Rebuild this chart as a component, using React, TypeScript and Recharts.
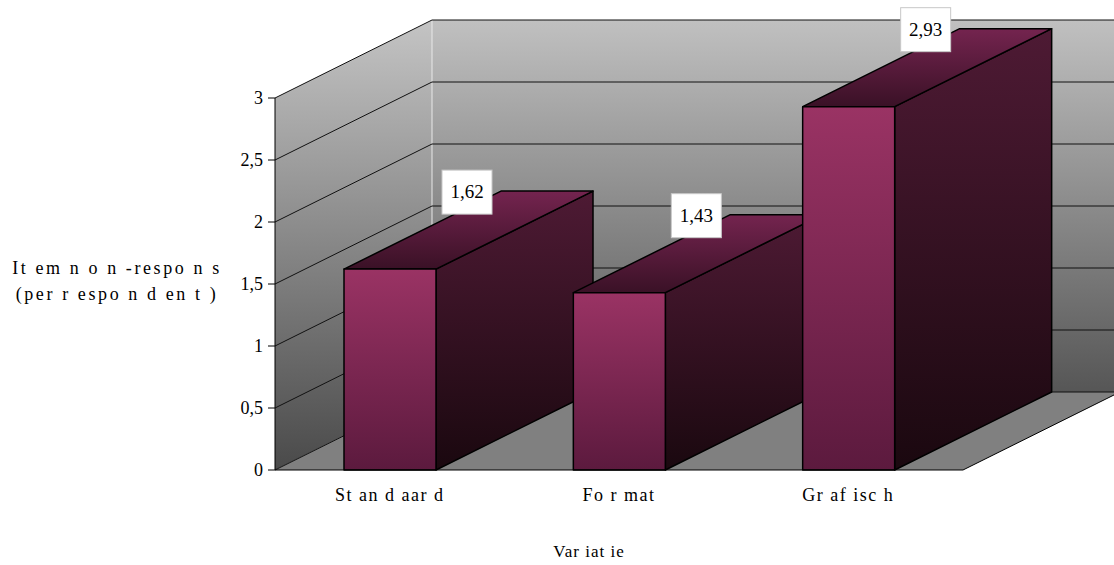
import { BarChart, Bar, XAxis, YAxis, ReferenceArea, LabelList, Label } from 'recharts';

const categories = ['St an d aar d', 'Fo r mat', 'Gr af isc h'];
const nonResponse = [1.62, 1.43, 2.93];
const yTicks = [0, 0.5, 1, 1.5, 2, 2.5, 3];

const data = categories.map((name, i) => ({ name, val: nonResponse[i] }));

// perspective offset of the back plane
const DX = 157;
const DY = 78;
const FONT = '"Liberation Serif", "Times New Roman", serif';

const comma = (v: number) => String(v).replace('.', ',');

// left wall, back wall, floor and the grid lines running over them
function Walls(props: any) {
  const { x, y, width, height } = props;
  const bottom = y + height;
  const yMax = yTicks[yTicks.length - 1];
  return (
    <g>
      <polygon
        points={`${x},${bottom} ${x},${y} ${x + DX},${y - DY} ${x + DX},${bottom - DY}`}
        fill="url(#wallSide)"
      />
      <polygon
        points={`${x + DX},${y - DY} ${x + width + DX},${y - DY} ${x + width + DX},${bottom - DY} ${x + DX},${bottom - DY}`}
        fill="url(#wallBack)"
      />
      <polygon
        points={`${x},${bottom} ${x + DX},${bottom - DY} ${x + width + DX},${bottom - DY} ${x + width},${bottom}`}
        fill="#808080"
      />
      <line x1={x + DX} y1={y - DY} x2={x + DX} y2={bottom - DY} stroke="#e8e8e8" />
      {yTicks.map((t) => {
        const py = bottom - (t / yMax) * height;
        return (
          <g key={t} stroke="#111" strokeWidth={1}>
            <line x1={x} y1={py} x2={x + DX} y2={py - DY} />
            <line x1={x + DX} y1={py - DY} x2={x + width + DX} y2={py - DY} />
          </g>
        );
      })}
      <line x1={x + width} y1={bottom} x2={x + width + DX} y2={bottom - DY} stroke="#000" />
    </g>
  );
}

function Box3D(props: any) {
  const { x, y, width, height } = props;
  const b = y + height;
  return (
    <g stroke="#000" strokeWidth={1.5} strokeLinejoin="round">
      <polygon
        points={`${x + width},${y} ${x + width + DX},${y - DY} ${x + width + DX},${b - DY} ${x + width},${b}`}
        fill="url(#barSide)"
      />
      <polygon
        points={`${x},${y} ${x + DX},${y - DY} ${x + width + DX},${y - DY} ${x + width},${y}`}
        fill="url(#barTop)"
      />
      <rect x={x} y={y} width={width} height={height} fill="url(#barFront)" />
    </g>
  );
}

function ValueTag(props: any) {
  const { x, y, value } = props;
  const cx = x + DX - 34;
  const top = y - DY - 21;
  return (
    <g>
      <rect x={cx - 25} y={top} width={50} height={44} fill="#fff" stroke="#c8c8c8" />
      <text x={cx} y={top + 28} textAnchor="middle" fontSize={19} fontFamily={FONT} fill="#000">
        {comma(value)}
      </text>
    </g>
  );
}

function CategoryTick(props: any) {
  const { x, y, payload } = props;
  return (
    <text x={x} y={y + 31} textAnchor="middle" fontSize={18} fontFamily={FONT} letterSpacing={1.5} fill="#000">
      {payload.value}
    </text>
  );
}

function YTitle(props: any) {
  const vb = props.viewBox || { x: 215, y: 98, width: 60, height: 372 };
  const cx = vb.x - 98;
  const cy = vb.y + vb.height / 2;
  return (
    <text textAnchor="middle" fontSize={18} fontFamily={FONT} letterSpacing={2.6} fill="#000">
      <tspan x={cx} y={cy - 10}>It em n o n -respo n s</tspan>
      <tspan x={cx} y={cy + 16}>(per r espo n d en t )</tspan>
    </text>
  );
}

function XTitle(props: any) {
  const vb = props.viewBox || { x: 275, y: 470, width: 688, height: 30 };
  return (
    <text x={vb.x + vb.width / 2 - 30} y={vb.y + 87} textAnchor="middle" fontSize={17} fontFamily={FONT} letterSpacing={1} fill="#000">
      Var iat ie
    </text>
  );
}

export default function App() {
  return (
    <div style={{ position: 'absolute', left: 0, top: 0, background: '#fff' }}>
      <BarChart width={1114} height={565} data={data} margin={{ top: 98, right: 151, bottom: 65, left: 215 }}>
        <defs>
          <linearGradient id="wallSide" x1="0" y1="0" x2="0" y2="1">
            <stop offset="0%" stopColor="#c4c4c4" />
            <stop offset="100%" stopColor="#4a4a4a" />
          </linearGradient>
          <linearGradient id="wallBack" x1="0" y1="0" x2="0" y2="1">
            <stop offset="0%" stopColor="#c0c0c0" />
            <stop offset="100%" stopColor="#565656" />
          </linearGradient>
          <linearGradient id="barFront" x1="0" y1="0" x2="0" y2="1">
            <stop offset="0%" stopColor="#9a3364" />
            <stop offset="100%" stopColor="#5c1a3e" />
          </linearGradient>
          <linearGradient id="barTop" x1="0" y1="0" x2="0" y2="1">
            <stop offset="0%" stopColor="#74244f" />
            <stop offset="100%" stopColor="#3a1126" />
          </linearGradient>
          <linearGradient id="barSide" x1="0" y1="0" x2="0" y2="1">
            <stop offset="0%" stopColor="#4e1a34" />
            <stop offset="100%" stopColor="#1a080f" />
          </linearGradient>
        </defs>
        <ReferenceArea y1={0} y2={3} shape={Walls} fillOpacity={1} />
        <XAxis
          dataKey="name"
          height={30}
          axisLine={{ stroke: '#000' }}
          tickLine={false}
          tickSize={0}
          tickMargin={0}
          tick={CategoryTick}
          interval={0}
        >
          <Label content={XTitle} />
        </XAxis>
        <YAxis
          width={60}
          domain={[0, 3]}
          ticks={yTicks}
          interval={0}
          tickFormatter={comma}
          axisLine={{ stroke: '#000' }}
          tickLine={{ stroke: '#000' }}
          tickSize={7}
          tickMargin={5}
          tick={{ fill: '#000', fontSize: 18, fontFamily: FONT }}
        >
          <Label content={YTitle} />
        </YAxis>
        <Bar dataKey="val" barSize={92} shape={Box3D} isAnimationActive={false}>
          <LabelList dataKey="val" content={ValueTag} />
        </Bar>
      </BarChart>
    </div>
  );
}
